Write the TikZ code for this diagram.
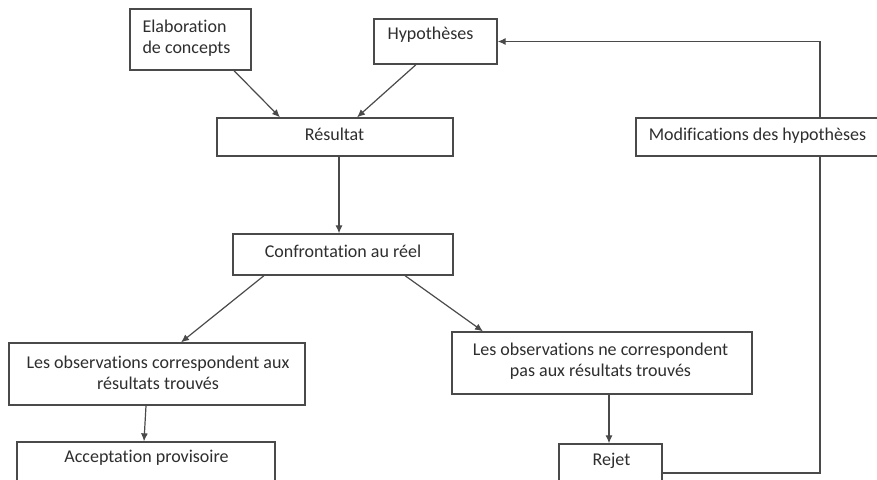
\documentclass[tikz,border=0pt]{standalone}
\usepackage{fontspec}
\setmainfont{Carlito}[Ligatures=NoCommon]
\usetikzlibrary{arrows.meta}
\definecolor{linegray}{HTML}{4A4A4A}
\definecolor{textgray}{HTML}{2E2E2E}
\begin{document}
\begin{tikzpicture}[x=1pt,y=-1pt,
  box/.style={draw=linegray, line width=1.3pt, rectangle, inner sep=0pt},
  txt/.style={text=textgray, font=\fontsize{18}{21.5}\selectfont, inner sep=0pt, align=center},
  one/.style={text height=13pt, text depth=4pt},
  arr/.style={draw=linegray, line width=1.2pt, -{Latex[length=8pt,width=7pt]}},
  conn/.style={draw=linegray, line width=1.2pt}]
\useasboundingbox (0,0) rectangle (877,479);
\fill[white] (0,0) rectangle (877,479);
\clip (0,0) rectangle (877,479);
% boxes
\node[box, minimum width=121pt, minimum height=61pt] (elab) at (190.5,39.5) {};
\node[box, minimum width=123pt, minimum height=45pt] (hyp) at (435.5,41.5) {};
\node[box, minimum width=236pt, minimum height=38pt] (res) at (335,137) {};
\node[box, minimum width=220pt, minimum height=41pt] (conf) at (343,254.5) {};
\node[box, minimum width=246pt, minimum height=38pt] (mod) at (759,137) {};
\node[box, minimum width=296pt, minimum height=62pt] (obsL) at (157,374) {};
\node[box, minimum width=300pt, minimum height=62pt] (obsR) at (602,363) {};
\node[box, minimum width=258pt, minimum height=60pt] (acc) at (146,472) {};
\node[box, minimum width=103pt, minimum height=58pt] (rej) at (610.5,473) {};
% texts
\node[txt, align=left] (elabt) at (186.5,38) {Elaboration\\de concepts};
\node[txt, one] (hypt) at (430.5,35) {Hypothèses};
\node[txt, one] (rest) at (334.5,136) {Résultat};
\node[txt, one] (conft) at (343,253) {Confrontation au réel};
\node[txt, one] (modt) at (757.5,136) {Modifications des hypothèses};
\node[txt] (obsLt) at (158,373) {Les observations correspondent aux\\résultats trouvés};
\node[txt] (obsRt) at (600.5,361) {Les observations ne correspondent\\pas aux résultats trouvés};
\node[txt, one] (acct) at (146.5,458) {Acceptation provisoire};
\node[txt, one] (rejt) at (611.5,461) {Rejet};
% connectors
\draw[arr] ([xshift=43.5pt]elab.south) -- ([xshift=-55pt]res.north);
\draw[arr] ([xshift=-19.5pt]hyp.south) -- ([xshift=22pt]res.north);
\draw[arr] ([xshift=4pt]res.south) -- ([xshift=-4pt]conf.north);
\draw[arr] ([xshift=-79pt]conf.south) -- ([xshift=24pt]obsL.north);
\draw[arr] ([xshift=62pt]conf.south) -- ([xshift=-119pt]obsR.north);
\draw[arr] ([xshift=-11pt]obsL.south) -- ([xshift=-2pt]acc.north);
\draw[arr] ([xshift=7pt]obsR.south) -- ([xshift=-1.5pt]rej.north);
\draw[conn] (rej.east) -| ([xshift=61pt]mod.south);
\draw[arr] ([xshift=61pt]mod.north) |- (hyp.east);
\end{tikzpicture}
\end{document}
